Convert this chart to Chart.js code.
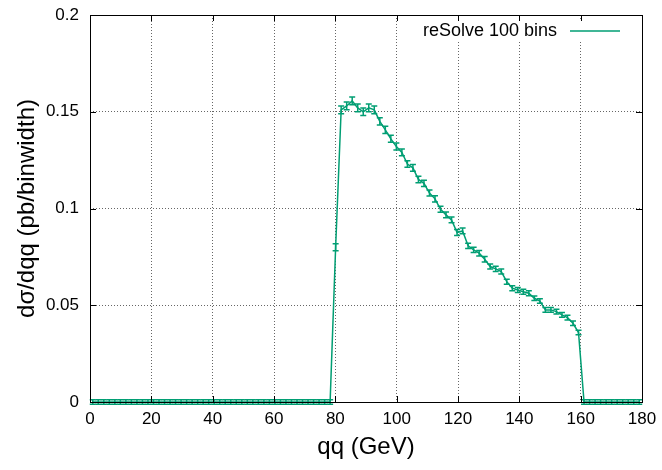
<!DOCTYPE html>
<html>
<head>
<meta charset="utf-8">
<script src="https://cdn.jsdelivr.net/npm/chart.js@4.4.1/dist/chart.umd.min.js"></script>
<style>
  html, body { margin: 0; padding: 0; background: #fff; }
  #chart { display: block; }
</style>
</head>
<body>
<canvas id="chart" width="662" height="470"></canvas>
<script>
// Centros de bin (100 bins de 0 a 180 GeV)
const binCenters = [
    0.9, 2.7, 4.5, 6.3, 8.1, 9.9, 11.7, 13.5, 15.3, 17.1,
    18.9, 20.7, 22.5, 24.3, 26.1, 27.9, 29.7, 31.5, 33.3, 35.1,
    36.9, 38.7, 40.5, 42.3, 44.1, 45.9, 47.7, 49.5, 51.3, 53.1,
    54.9, 56.7, 58.5, 60.3, 62.1, 63.9, 65.7, 67.5, 69.3, 71.1,
    72.9, 74.7, 76.5, 78.3, 80.1, 81.9, 83.7, 85.5, 87.3, 89.1,
    90.9, 92.7, 94.5, 96.3, 98.1, 99.9, 101.7, 103.5, 105.3, 107.1,
    108.9, 110.7, 112.5, 114.3, 116.1, 117.9, 119.7, 121.5, 123.3, 125.1,
    126.9, 128.7, 130.5, 132.3, 134.1, 135.9, 137.7, 139.5, 141.3, 143.1,
    144.9, 146.7, 148.5, 150.3, 152.1, 153.9, 155.7, 157.5, 159.3, 161.1,
    162.9, 164.7, 166.5, 168.3, 170.1, 171.9, 173.7, 175.5, 177.3, 179.1
];

// dσ/dqq por bin
const crossSection = [
    0, 0, 0, 0, 0, 0, 0, 0, 0, 0,
    0, 0, 0, 0, 0, 0, 0, 0, 0, 0,
    0, 0, 0, 0, 0, 0, 0, 0, 0, 0,
    0, 0, 0, 0, 0, 0, 0, 0, 0, 0,
    0, 0, 0, 0, 0.080, 0.151, 0.153, 0.1556, 0.152, 0.150,
    0.152, 0.151, 0.145, 0.1406, 0.136, 0.132, 0.129, 0.123, 0.121, 0.115,
    0.113, 0.108, 0.105, 0.0996, 0.0967, 0.0941, 0.0876, 0.0884, 0.0807, 0.0786,
    0.0769, 0.0738, 0.070, 0.0688, 0.0674, 0.0622, 0.0588, 0.0579, 0.057, 0.0562,
    0.0536, 0.0522, 0.0476, 0.0476, 0.0467, 0.045, 0.0436, 0.0407, 0.0359, 0,
    0, 0, 0, 0, 0, 0, 0, 0, 0, 0
];

// Error de cada bin
const crossSectionErr = [
    0.0012, 0.0012, 0.0012, 0.0012, 0.0012, 0.0012, 0.0012, 0.0012, 0.0012, 0.0012,
    0.0012, 0.0012, 0.0012, 0.0012, 0.0012, 0.0012, 0.0012, 0.0012, 0.0012, 0.0012,
    0.0012, 0.0012, 0.0012, 0.0012, 0.0012, 0.0012, 0.0012, 0.0012, 0.0012, 0.0012,
    0.0012, 0.0012, 0.0012, 0.0012, 0.0012, 0.0012, 0.0012, 0.0012, 0.0012, 0.0012,
    0.0012, 0.0012, 0.0012, 0.0012, 0.0018, 0.002, 0.002, 0.002, 0.002, 0.002,
    0.002, 0.002, 0.0019, 0.0019, 0.0018, 0.0018, 0.0018, 0.0017, 0.0017, 0.0017,
    0.0016, 0.0016, 0.0016, 0.0016, 0.0015, 0.0015, 0.0015, 0.0015, 0.0014, 0.0014,
    0.0014, 0.0014, 0.0013, 0.0013, 0.0013, 0.0013, 0.0013, 0.0013, 0.0013, 0.0013,
    0.0012, 0.0012, 0.0012, 0.0012, 0.0012, 0.0012, 0.0012, 0.0012, 0.0012, 0.0012,
    0.0012, 0.0012, 0.0012, 0.0012, 0.0012, 0.0012, 0.0012, 0.0012, 0.0012, 0.0012
];

const xTicks = [0, 20, 40, 60, 80, 100, 120, 140, 160, 180];
const yTicks = [0, 0.05, 0.1, 0.15, 0.2];
const seriesLabel = 'reSolve 100 bins';

const VERDE = '#009e73';
const FUENTE = 'Liberation Sans, Arial, Helvetica, sans-serif';

// Barras de error
const errorBars = {
    id: 'errorBars',
    afterDatasetsDraw(chart) {
        const { ctx, scales: { x, y } } = chart;
        ctx.save();
        ctx.strokeStyle = VERDE;
        ctx.lineWidth = 1.5;
        binCenters.forEach((c, i) => {
            const px = x.getPixelForValue(c);
            const top = y.getPixelForValue(crossSection[i] + crossSectionErr[i]);
            const bot = y.getPixelForValue(crossSection[i] - crossSectionErr[i]);
            ctx.beginPath();
            ctx.moveTo(px, top); ctx.lineTo(px, bot);
            ctx.moveTo(px - 3, top); ctx.lineTo(px + 3, top);
            ctx.moveTo(px - 3, bot); ctx.lineTo(px + 3, bot);
            ctx.stroke();
        });
        ctx.restore();
    }
};

// Borde, marcas internas y leyenda estilo gnuplot
const marco = {
    id: 'marco',
    afterDraw(chart) {
        const { ctx, chartArea: a, scales: { x, y } } = chart;
        ctx.save();

        // caja de leyenda opaca
        ctx.fillStyle = '#fff';
        ctx.fillRect(412, 20, 222, 20);
        ctx.fillStyle = '#000';
        ctx.font = '18px ' + FUENTE;
        ctx.textAlign = 'right';
        ctx.textBaseline = 'middle';
        ctx.fillText(seriesLabel, 557, 31);
        ctx.strokeStyle = VERDE;
        ctx.lineWidth = 1.5;
        ctx.beginPath();
        ctx.moveTo(570, 31); ctx.lineTo(620, 31);
        ctx.stroke();

        ctx.strokeStyle = '#000';
        ctx.lineWidth = 1;
        ctx.beginPath();
        xTicks.forEach(t => {
            const px = Math.round(x.getPixelForValue(t)) + 0.5;
            ctx.moveTo(px, a.bottom); ctx.lineTo(px, a.bottom - 6);
            ctx.moveTo(px, a.top); ctx.lineTo(px, a.top + 6);
        });
        yTicks.forEach(t => {
            const py = Math.round(y.getPixelForValue(t)) + 0.5;
            ctx.moveTo(a.left, py); ctx.lineTo(a.left + 6, py);
            ctx.moveTo(a.right, py); ctx.lineTo(a.right - 6, py);
        });
        ctx.stroke();
        ctx.strokeRect(Math.round(a.left) + 0.5, Math.round(a.top) + 0.5,
            Math.round(a.right - a.left), Math.round(a.bottom - a.top));
        ctx.restore();
    }
};

const ctx = document.getElementById('chart').getContext('2d');
new Chart(ctx, {
    type: 'line',
    data: {
        datasets: [{
            label: seriesLabel,
            data: binCenters.map((c, i) => ({ x: c, y: crossSection[i] })),
            borderColor: VERDE,
            borderWidth: 1.5,
            pointRadius: 0,
            tension: 0,
            fill: false
        }]
    },
    options: {
        responsive: false,
        animation: false,
        layout: { padding: { left: 0, right: 20, top: 15, bottom: 0 } },
        plugins: { legend: { display: false }, tooltip: { enabled: false } },
        scales: {
            x: {
                type: 'linear', min: 0, max: 180,
                afterBuildTicks: s => { s.ticks = xTicks.map(v => ({ value: v })); },
                afterFit: s => { s.height = 68; s.paddingLeft = 0; s.paddingRight = 0; },
                ticks: { color: '#000', padding: 7, font: { family: FUENTE, size: 17 } },
                grid: { color: '#666', lineWidth: 1, drawTicks: false },
                border: { display: false, dash: [1, 2] },
                title: {
                    display: true, text: 'qq (GeV)', color: '#000',
                    font: { family: FUENTE, size: 24 }, padding: { top: 0, bottom: 8 }
                }
            },
            y: {
                min: 0, max: 0.2,
                afterBuildTicks: s => { s.ticks = yTicks.map(v => ({ value: v })); },
                afterFit: s => { s.width = 90; s.paddingTop = 0; s.paddingBottom = 0; },
                ticks: {
                    color: '#000', padding: 11, font: { family: FUENTE, size: 17 },
                    callback: v => String(+v.toFixed(2))
                },
                grid: { color: '#666', lineWidth: 1, drawTicks: false },
                border: { display: false, dash: [1, 2] },
                title: {
                    display: true, text: 'dσ/dqq (pb/binwidth)', color: '#000',
                    font: { family: FUENTE, size: 24 }, padding: { top: 13, bottom: 0 }
                }
            }
        }
    },
    plugins: [errorBars, marco]
});
</script>
</body>
</html>
